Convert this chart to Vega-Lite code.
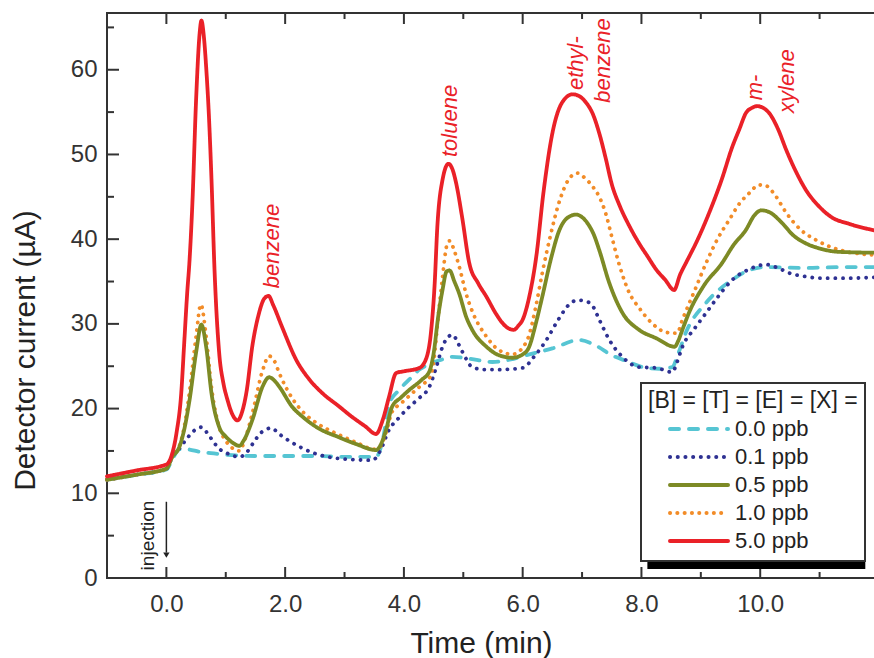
{
  "$schema": "https://vega.github.io/schema/vega-lite/v6.json",
  "width": 769,
  "height": 565,
  "autosize": "none",
  "padding": {"left": 107, "top": 13, "right": 0, "bottom": 80},
  "config": {
    "font": "Liberation Sans",
    "view": {"stroke": "#333", "strokeWidth": 2},
    "axis": {"grid": false, "ticks": false, "domain": false, "labelColor": "#333", "titleColor": "#222", "titleFontWeight": "normal", "labelFontSize": 24, "titleFontSize": 30},
    "legend": {"strokeWidth": 2}
  },
  "datasets": {
    "xMajor": [{"v": 0}, {"v": 2}, {"v": 4}, {"v": 6}, {"v": 8}, {"v": 10}],
    "xMinor": [{"v": -1}, {"v": 1}, {"v": 3}, {"v": 5}, {"v": 7}, {"v": 9}, {"v": 11}],
    "yMajor": [{"v": 10}, {"v": 20}, {"v": 30}, {"v": 40}, {"v": 50}, {"v": 60}],
    "yMinor": [{"v": 5}, {"v": 15}, {"v": 25}, {"v": 35}, {"v": 45}, {"v": 55}, {"v": 65}],
    "curves": [
      {"s": "0.0 ppb", "t": -1, "i": 11.6}, {"s": "0.0 ppb", "t": -0.5, "i": 12.2}, {"s": "0.0 ppb", "t": 0, "i": 12.8}, {"s": "0.0 ppb", "t": 0.1, "i": 14.0},
      {"s": "0.0 ppb", "t": 0.22, "i": 15.2}, {"s": "0.0 ppb", "t": 0.34, "i": 15.2}, {"s": "0.0 ppb", "t": 0.56, "i": 14.9}, {"s": "0.0 ppb", "t": 0.8, "i": 14.7},
      {"s": "0.0 ppb", "t": 1.11, "i": 14.5}, {"s": "0.0 ppb", "t": 1.5, "i": 14.4}, {"s": "0.0 ppb", "t": 2.0, "i": 14.4}, {"s": "0.0 ppb", "t": 2.5, "i": 14.4},
      {"s": "0.0 ppb", "t": 3.0, "i": 14.3}, {"s": "0.0 ppb", "t": 3.53, "i": 14.3}, {"s": "0.0 ppb", "t": 3.65, "i": 16.5}, {"s": "0.0 ppb", "t": 3.75, "i": 20.5},
      {"s": "0.0 ppb", "t": 3.92, "i": 22.2}, {"s": "0.0 ppb", "t": 4.1, "i": 23.5}, {"s": "0.0 ppb", "t": 4.26, "i": 24.6}, {"s": "0.0 ppb", "t": 4.45, "i": 25.3},
      {"s": "0.0 ppb", "t": 4.6, "i": 25.7}, {"s": "0.0 ppb", "t": 4.82, "i": 26.1}, {"s": "0.0 ppb", "t": 5.1, "i": 25.9}, {"s": "0.0 ppb", "t": 5.49, "i": 25.5},
      {"s": "0.0 ppb", "t": 5.8, "i": 25.8}, {"s": "0.0 ppb", "t": 6.06, "i": 26.3}, {"s": "0.0 ppb", "t": 6.5, "i": 27.1}, {"s": "0.0 ppb", "t": 6.95, "i": 28.1},
      {"s": "0.0 ppb", "t": 7.24, "i": 27.4}, {"s": "0.0 ppb", "t": 7.5, "i": 26.3}, {"s": "0.0 ppb", "t": 7.75, "i": 25.6}, {"s": "0.0 ppb", "t": 8.08, "i": 24.8},
      {"s": "0.0 ppb", "t": 8.3, "i": 24.7}, {"s": "0.0 ppb", "t": 8.52, "i": 24.9}, {"s": "0.0 ppb", "t": 8.62, "i": 26.5}, {"s": "0.0 ppb", "t": 8.75, "i": 29.0},
      {"s": "0.0 ppb", "t": 9.09, "i": 32.5}, {"s": "0.0 ppb", "t": 9.53, "i": 35.2}, {"s": "0.0 ppb", "t": 9.8, "i": 36.3}, {"s": "0.0 ppb", "t": 10.1, "i": 36.7},
      {"s": "0.0 ppb", "t": 10.77, "i": 36.6}, {"s": "0.0 ppb", "t": 11.3, "i": 36.7}, {"s": "0.0 ppb", "t": 11.95, "i": 36.7},

      {"s": "0.1 ppb", "t": -1, "i": 11.6}, {"s": "0.1 ppb", "t": -0.5, "i": 12.2}, {"s": "0.1 ppb", "t": 0, "i": 12.9}, {"s": "0.1 ppb", "t": 0.1, "i": 14.3},
      {"s": "0.1 ppb", "t": 0.22, "i": 15.3}, {"s": "0.1 ppb", "t": 0.35, "i": 16.5}, {"s": "0.1 ppb", "t": 0.45, "i": 17.3}, {"s": "0.1 ppb", "t": 0.59, "i": 17.8},
      {"s": "0.1 ppb", "t": 0.7, "i": 17.0}, {"s": "0.1 ppb", "t": 0.8, "i": 16.0}, {"s": "0.1 ppb", "t": 0.9, "i": 15.2}, {"s": "0.1 ppb", "t": 1.0, "i": 14.8},
      {"s": "0.1 ppb", "t": 1.23, "i": 14.3}, {"s": "0.1 ppb", "t": 1.35, "i": 14.8}, {"s": "0.1 ppb", "t": 1.45, "i": 15.8}, {"s": "0.1 ppb", "t": 1.6, "i": 17.2},
      {"s": "0.1 ppb", "t": 1.77, "i": 17.7}, {"s": "0.1 ppb", "t": 1.9, "i": 17.0}, {"s": "0.1 ppb", "t": 2.0, "i": 16.5}, {"s": "0.1 ppb", "t": 2.24, "i": 15.5},
      {"s": "0.1 ppb", "t": 2.5, "i": 14.7}, {"s": "0.1 ppb", "t": 2.8, "i": 14.2}, {"s": "0.1 ppb", "t": 3.1, "i": 14.0}, {"s": "0.1 ppb", "t": 3.47, "i": 13.9},
      {"s": "0.1 ppb", "t": 3.6, "i": 15.0}, {"s": "0.1 ppb", "t": 3.75, "i": 17.5}, {"s": "0.1 ppb", "t": 3.9, "i": 18.8}, {"s": "0.1 ppb", "t": 4.09, "i": 20.2},
      {"s": "0.1 ppb", "t": 4.25, "i": 21.2}, {"s": "0.1 ppb", "t": 4.43, "i": 22.6}, {"s": "0.1 ppb", "t": 4.55, "i": 25.0}, {"s": "0.1 ppb", "t": 4.65, "i": 27.3},
      {"s": "0.1 ppb", "t": 4.75, "i": 28.5}, {"s": "0.1 ppb", "t": 4.82, "i": 28.7}, {"s": "0.1 ppb", "t": 4.92, "i": 27.6}, {"s": "0.1 ppb", "t": 5.0, "i": 26.5},
      {"s": "0.1 ppb", "t": 5.15, "i": 24.9}, {"s": "0.1 ppb", "t": 5.35, "i": 24.6}, {"s": "0.1 ppb", "t": 5.6, "i": 24.6}, {"s": "0.1 ppb", "t": 6.0, "i": 24.8},
      {"s": "0.1 ppb", "t": 6.2, "i": 26.2}, {"s": "0.1 ppb", "t": 6.4, "i": 28.1}, {"s": "0.1 ppb", "t": 6.6, "i": 30.5}, {"s": "0.1 ppb", "t": 6.8, "i": 32.4},
      {"s": "0.1 ppb", "t": 6.92, "i": 32.8}, {"s": "0.1 ppb", "t": 7.05, "i": 32.7}, {"s": "0.1 ppb", "t": 7.17, "i": 32.2}, {"s": "0.1 ppb", "t": 7.29, "i": 30.5},
      {"s": "0.1 ppb", "t": 7.46, "i": 28.1}, {"s": "0.1 ppb", "t": 7.68, "i": 26.1}, {"s": "0.1 ppb", "t": 7.96, "i": 24.9}, {"s": "0.1 ppb", "t": 8.25, "i": 24.8},
      {"s": "0.1 ppb", "t": 8.52, "i": 24.3}, {"s": "0.1 ppb", "t": 8.6, "i": 25.5}, {"s": "0.1 ppb", "t": 8.69, "i": 27.3}, {"s": "0.1 ppb", "t": 8.9, "i": 29.5},
      {"s": "0.1 ppb", "t": 9.09, "i": 31.3}, {"s": "0.1 ppb", "t": 9.3, "i": 33.3}, {"s": "0.1 ppb", "t": 9.53, "i": 35.2}, {"s": "0.1 ppb", "t": 9.8, "i": 36.4},
      {"s": "0.1 ppb", "t": 10.1, "i": 37.0}, {"s": "0.1 ppb", "t": 10.3, "i": 36.6}, {"s": "0.1 ppb", "t": 10.49, "i": 36.0}, {"s": "0.1 ppb", "t": 10.75, "i": 35.6},
      {"s": "0.1 ppb", "t": 11.04, "i": 35.4}, {"s": "0.1 ppb", "t": 11.5, "i": 35.4}, {"s": "0.1 ppb", "t": 11.95, "i": 35.5},

      {"s": "1.0 ppb", "t": -1, "i": 11.6}, {"s": "1.0 ppb", "t": -0.5, "i": 12.2}, {"s": "1.0 ppb", "t": 0, "i": 12.9}, {"s": "1.0 ppb", "t": 0.1, "i": 14.3},
      {"s": "1.0 ppb", "t": 0.22, "i": 15.6}, {"s": "1.0 ppb", "t": 0.3, "i": 17.8}, {"s": "1.0 ppb", "t": 0.39, "i": 22.0}, {"s": "1.0 ppb", "t": 0.5, "i": 28.5},
      {"s": "1.0 ppb", "t": 0.58, "i": 32.3}, {"s": "1.0 ppb", "t": 0.67, "i": 28.5}, {"s": "1.0 ppb", "t": 0.76, "i": 22.5}, {"s": "1.0 ppb", "t": 0.89, "i": 17.8},
      {"s": "1.0 ppb", "t": 1.0, "i": 16.2}, {"s": "1.0 ppb", "t": 1.1, "i": 15.4}, {"s": "1.0 ppb", "t": 1.23, "i": 15.0}, {"s": "1.0 ppb", "t": 1.32, "i": 16.3},
      {"s": "1.0 ppb", "t": 1.45, "i": 19.5}, {"s": "1.0 ppb", "t": 1.62, "i": 24.5}, {"s": "1.0 ppb", "t": 1.73, "i": 26.2}, {"s": "1.0 ppb", "t": 1.82, "i": 25.6},
      {"s": "1.0 ppb", "t": 1.9, "i": 24.2}, {"s": "1.0 ppb", "t": 2.12, "i": 21.2}, {"s": "1.0 ppb", "t": 2.3, "i": 19.6}, {"s": "1.0 ppb", "t": 2.53, "i": 18.3},
      {"s": "1.0 ppb", "t": 2.91, "i": 16.9}, {"s": "1.0 ppb", "t": 3.2, "i": 16.0}, {"s": "1.0 ppb", "t": 3.5, "i": 15.2}, {"s": "1.0 ppb", "t": 3.6, "i": 15.5},
      {"s": "1.0 ppb", "t": 3.7, "i": 17.2}, {"s": "1.0 ppb", "t": 3.8, "i": 19.6}, {"s": "1.0 ppb", "t": 3.95, "i": 20.6}, {"s": "1.0 ppb", "t": 4.09, "i": 21.5},
      {"s": "1.0 ppb", "t": 4.3, "i": 22.8}, {"s": "1.0 ppb", "t": 4.43, "i": 23.6}, {"s": "1.0 ppb", "t": 4.5, "i": 25.5}, {"s": "1.0 ppb", "t": 4.58, "i": 31.0},
      {"s": "1.0 ppb", "t": 4.65, "i": 35.5}, {"s": "1.0 ppb", "t": 4.72, "i": 39.2}, {"s": "1.0 ppb", "t": 4.77, "i": 39.8}, {"s": "1.0 ppb", "t": 4.85, "i": 38.6},
      {"s": "1.0 ppb", "t": 4.93, "i": 36.8}, {"s": "1.0 ppb", "t": 5.05, "i": 33.5}, {"s": "1.0 ppb", "t": 5.15, "i": 31.5}, {"s": "1.0 ppb", "t": 5.39, "i": 28.5},
      {"s": "1.0 ppb", "t": 5.6, "i": 26.9}, {"s": "1.0 ppb", "t": 5.83, "i": 26.4}, {"s": "1.0 ppb", "t": 6.0, "i": 27.2}, {"s": "1.0 ppb", "t": 6.1, "i": 28.5},
      {"s": "1.0 ppb", "t": 6.22, "i": 32.0}, {"s": "1.0 ppb", "t": 6.33, "i": 36.0}, {"s": "1.0 ppb", "t": 6.47, "i": 40.5}, {"s": "1.0 ppb", "t": 6.62, "i": 44.5},
      {"s": "1.0 ppb", "t": 6.77, "i": 47.0}, {"s": "1.0 ppb", "t": 6.92, "i": 47.8}, {"s": "1.0 ppb", "t": 7.05, "i": 47.2}, {"s": "1.0 ppb", "t": 7.18, "i": 46.2},
      {"s": "1.0 ppb", "t": 7.29, "i": 45.0}, {"s": "1.0 ppb", "t": 7.4, "i": 43.0}, {"s": "1.0 ppb", "t": 7.5, "i": 40.3}, {"s": "1.0 ppb", "t": 7.63, "i": 36.9},
      {"s": "1.0 ppb", "t": 7.8, "i": 33.6}, {"s": "1.0 ppb", "t": 7.96, "i": 31.9}, {"s": "1.0 ppb", "t": 8.16, "i": 30.2}, {"s": "1.0 ppb", "t": 8.42, "i": 29.0},
      {"s": "1.0 ppb", "t": 8.6, "i": 28.9}, {"s": "1.0 ppb", "t": 8.69, "i": 30.5}, {"s": "1.0 ppb", "t": 8.9, "i": 34.0}, {"s": "1.0 ppb", "t": 9.09, "i": 37.2},
      {"s": "1.0 ppb", "t": 9.28, "i": 40.0}, {"s": "1.0 ppb", "t": 9.48, "i": 42.3}, {"s": "1.0 ppb", "t": 9.65, "i": 44.2}, {"s": "1.0 ppb", "t": 9.81, "i": 45.4},
      {"s": "1.0 ppb", "t": 9.98, "i": 46.4}, {"s": "1.0 ppb", "t": 10.1, "i": 46.3}, {"s": "1.0 ppb", "t": 10.25, "i": 45.2}, {"s": "1.0 ppb", "t": 10.44, "i": 43.1},
      {"s": "1.0 ppb", "t": 10.7, "i": 41.0}, {"s": "1.0 ppb", "t": 10.94, "i": 39.9}, {"s": "1.0 ppb", "t": 11.3, "i": 38.8}, {"s": "1.0 ppb", "t": 11.95, "i": 38.1},

      {"s": "0.5 ppb", "t": -1, "i": 11.6}, {"s": "0.5 ppb", "t": -0.5, "i": 12.2}, {"s": "0.5 ppb", "t": 0, "i": 12.9}, {"s": "0.5 ppb", "t": 0.1, "i": 14.3},
      {"s": "0.5 ppb", "t": 0.22, "i": 15.5}, {"s": "0.5 ppb", "t": 0.3, "i": 17.5}, {"s": "0.5 ppb", "t": 0.39, "i": 21.0}, {"s": "0.5 ppb", "t": 0.5, "i": 26.6},
      {"s": "0.5 ppb", "t": 0.59, "i": 29.9}, {"s": "0.5 ppb", "t": 0.67, "i": 27.3}, {"s": "0.5 ppb", "t": 0.76, "i": 21.8}, {"s": "0.5 ppb", "t": 0.89, "i": 17.8},
      {"s": "0.5 ppb", "t": 1.0, "i": 16.7}, {"s": "0.5 ppb", "t": 1.11, "i": 16.0}, {"s": "0.5 ppb", "t": 1.23, "i": 15.6}, {"s": "0.5 ppb", "t": 1.3, "i": 16.2},
      {"s": "0.5 ppb", "t": 1.45, "i": 18.7}, {"s": "0.5 ppb", "t": 1.62, "i": 22.6}, {"s": "0.5 ppb", "t": 1.73, "i": 23.7}, {"s": "0.5 ppb", "t": 1.82, "i": 23.3},
      {"s": "0.5 ppb", "t": 1.9, "i": 22.6}, {"s": "0.5 ppb", "t": 2.12, "i": 20.2}, {"s": "0.5 ppb", "t": 2.3, "i": 19.0}, {"s": "0.5 ppb", "t": 2.53, "i": 17.8},
      {"s": "0.5 ppb", "t": 2.91, "i": 16.6}, {"s": "0.5 ppb", "t": 3.2, "i": 15.8}, {"s": "0.5 ppb", "t": 3.53, "i": 15.1}, {"s": "0.5 ppb", "t": 3.6, "i": 15.6},
      {"s": "0.5 ppb", "t": 3.7, "i": 17.5}, {"s": "0.5 ppb", "t": 3.8, "i": 20.2}, {"s": "0.5 ppb", "t": 3.95, "i": 21.3}, {"s": "0.5 ppb", "t": 4.09, "i": 22.2},
      {"s": "0.5 ppb", "t": 4.3, "i": 23.4}, {"s": "0.5 ppb", "t": 4.43, "i": 24.4}, {"s": "0.5 ppb", "t": 4.5, "i": 26.5}, {"s": "0.5 ppb", "t": 4.58, "i": 31.0},
      {"s": "0.5 ppb", "t": 4.65, "i": 34.0}, {"s": "0.5 ppb", "t": 4.72, "i": 36.2}, {"s": "0.5 ppb", "t": 4.77, "i": 36.3}, {"s": "0.5 ppb", "t": 4.85, "i": 35.0},
      {"s": "0.5 ppb", "t": 4.93, "i": 33.6}, {"s": "0.5 ppb", "t": 5.05, "i": 30.8}, {"s": "0.5 ppb", "t": 5.15, "i": 29.3}, {"s": "0.5 ppb", "t": 5.39, "i": 27.3},
      {"s": "0.5 ppb", "t": 5.6, "i": 26.3}, {"s": "0.5 ppb", "t": 5.83, "i": 26.0}, {"s": "0.5 ppb", "t": 6.0, "i": 26.4}, {"s": "0.5 ppb", "t": 6.11, "i": 27.3},
      {"s": "0.5 ppb", "t": 6.22, "i": 30.0}, {"s": "0.5 ppb", "t": 6.33, "i": 33.2}, {"s": "0.5 ppb", "t": 6.47, "i": 37.5}, {"s": "0.5 ppb", "t": 6.62, "i": 41.1},
      {"s": "0.5 ppb", "t": 6.77, "i": 42.6}, {"s": "0.5 ppb", "t": 6.9, "i": 42.9}, {"s": "0.5 ppb", "t": 7.0, "i": 42.6}, {"s": "0.5 ppb", "t": 7.1, "i": 41.8},
      {"s": "0.5 ppb", "t": 7.2, "i": 40.5}, {"s": "0.5 ppb", "t": 7.29, "i": 38.7}, {"s": "0.5 ppb", "t": 7.46, "i": 34.8}, {"s": "0.5 ppb", "t": 7.68, "i": 31.3},
      {"s": "0.5 ppb", "t": 7.96, "i": 29.3}, {"s": "0.5 ppb", "t": 8.25, "i": 28.3}, {"s": "0.5 ppb", "t": 8.56, "i": 27.3}, {"s": "0.5 ppb", "t": 8.62, "i": 28.0},
      {"s": "0.5 ppb", "t": 8.7, "i": 29.5}, {"s": "0.5 ppb", "t": 8.8, "i": 31.3}, {"s": "0.5 ppb", "t": 9.05, "i": 34.5}, {"s": "0.5 ppb", "t": 9.36, "i": 37.2},
      {"s": "0.5 ppb", "t": 9.55, "i": 39.3}, {"s": "0.5 ppb", "t": 9.76, "i": 41.1}, {"s": "0.5 ppb", "t": 9.9, "i": 42.8}, {"s": "0.5 ppb", "t": 10.02, "i": 43.4},
      {"s": "0.5 ppb", "t": 10.15, "i": 43.2}, {"s": "0.5 ppb", "t": 10.37, "i": 41.9}, {"s": "0.5 ppb", "t": 10.55, "i": 40.5}, {"s": "0.5 ppb", "t": 10.77, "i": 39.5},
      {"s": "0.5 ppb", "t": 11.0, "i": 38.9}, {"s": "0.5 ppb", "t": 11.33, "i": 38.5}, {"s": "0.5 ppb", "t": 11.95, "i": 38.4},

      {"s": "5.0 ppb", "t": -1, "i": 12.0}, {"s": "5.0 ppb", "t": -0.5, "i": 12.7}, {"s": "5.0 ppb", "t": 0, "i": 13.4}, {"s": "5.0 ppb", "t": 0.08, "i": 14.3},
      {"s": "5.0 ppb", "t": 0.17, "i": 17.1}, {"s": "5.0 ppb", "t": 0.25, "i": 21.8}, {"s": "5.0 ppb", "t": 0.3, "i": 27.7}, {"s": "5.0 ppb", "t": 0.35, "i": 33.6},
      {"s": "5.0 ppb", "t": 0.39, "i": 37.5}, {"s": "5.0 ppb", "t": 0.44, "i": 44.6}, {"s": "5.0 ppb", "t": 0.5, "i": 56.4}, {"s": "5.0 ppb", "t": 0.56, "i": 64.3},
      {"s": "5.0 ppb", "t": 0.59, "i": 65.8}, {"s": "5.0 ppb", "t": 0.63, "i": 64.0}, {"s": "5.0 ppb", "t": 0.67, "i": 60.3}, {"s": "5.0 ppb", "t": 0.72, "i": 54.0},
      {"s": "5.0 ppb", "t": 0.76, "i": 47.0}, {"s": "5.0 ppb", "t": 0.81, "i": 36.5}, {"s": "5.0 ppb", "t": 0.89, "i": 26.5}, {"s": "5.0 ppb", "t": 0.96, "i": 23.0},
      {"s": "5.0 ppb", "t": 1.03, "i": 21.0}, {"s": "5.0 ppb", "t": 1.1, "i": 19.5}, {"s": "5.0 ppb", "t": 1.2, "i": 18.6}, {"s": "5.0 ppb", "t": 1.27, "i": 19.5},
      {"s": "5.0 ppb", "t": 1.35, "i": 22.0}, {"s": "5.0 ppb", "t": 1.45, "i": 27.5}, {"s": "5.0 ppb", "t": 1.55, "i": 31.0}, {"s": "5.0 ppb", "t": 1.65, "i": 33.0},
      {"s": "5.0 ppb", "t": 1.72, "i": 33.3}, {"s": "5.0 ppb", "t": 1.8, "i": 32.2}, {"s": "5.0 ppb", "t": 1.95, "i": 29.6}, {"s": "5.0 ppb", "t": 2.19, "i": 25.7},
      {"s": "5.0 ppb", "t": 2.4, "i": 23.5}, {"s": "5.0 ppb", "t": 2.63, "i": 21.8}, {"s": "5.0 ppb", "t": 2.9, "i": 20.3}, {"s": "5.0 ppb", "t": 3.13, "i": 19.0},
      {"s": "5.0 ppb", "t": 3.35, "i": 17.9}, {"s": "5.0 ppb", "t": 3.53, "i": 17.0}, {"s": "5.0 ppb", "t": 3.65, "i": 18.8}, {"s": "5.0 ppb", "t": 3.75, "i": 21.4},
      {"s": "5.0 ppb", "t": 3.87, "i": 24.2}, {"s": "5.0 ppb", "t": 4.0, "i": 24.4}, {"s": "5.0 ppb", "t": 4.26, "i": 24.8}, {"s": "5.0 ppb", "t": 4.38, "i": 26.0},
      {"s": "5.0 ppb", "t": 4.46, "i": 29.3}, {"s": "5.0 ppb", "t": 4.52, "i": 35.0}, {"s": "5.0 ppb", "t": 4.56, "i": 41.1}, {"s": "5.0 ppb", "t": 4.65, "i": 47.0},
      {"s": "5.0 ppb", "t": 4.75, "i": 48.9}, {"s": "5.0 ppb", "t": 4.82, "i": 48.2}, {"s": "5.0 ppb", "t": 4.88, "i": 46.6}, {"s": "5.0 ppb", "t": 4.98, "i": 42.6},
      {"s": "5.0 ppb", "t": 5.1, "i": 37.2}, {"s": "5.0 ppb", "t": 5.25, "i": 34.8}, {"s": "5.0 ppb", "t": 5.39, "i": 33.2}, {"s": "5.0 ppb", "t": 5.55, "i": 31.2},
      {"s": "5.0 ppb", "t": 5.66, "i": 30.1}, {"s": "5.0 ppb", "t": 5.78, "i": 29.4}, {"s": "5.0 ppb", "t": 5.85, "i": 29.3}, {"s": "5.0 ppb", "t": 5.93, "i": 29.8},
      {"s": "5.0 ppb", "t": 6.0, "i": 30.5}, {"s": "5.0 ppb", "t": 6.12, "i": 33.5}, {"s": "5.0 ppb", "t": 6.23, "i": 38.0}, {"s": "5.0 ppb", "t": 6.35, "i": 45.5},
      {"s": "5.0 ppb", "t": 6.5, "i": 52.5}, {"s": "5.0 ppb", "t": 6.67, "i": 56.2}, {"s": "5.0 ppb", "t": 6.84, "i": 57.1}, {"s": "5.0 ppb", "t": 6.95, "i": 56.9},
      {"s": "5.0 ppb", "t": 7.07, "i": 56.1}, {"s": "5.0 ppb", "t": 7.18, "i": 54.8}, {"s": "5.0 ppb", "t": 7.29, "i": 52.5}, {"s": "5.0 ppb", "t": 7.4, "i": 49.5},
      {"s": "5.0 ppb", "t": 7.5, "i": 46.5}, {"s": "5.0 ppb", "t": 7.63, "i": 44.0}, {"s": "5.0 ppb", "t": 7.8, "i": 41.5}, {"s": "5.0 ppb", "t": 7.96, "i": 39.5},
      {"s": "5.0 ppb", "t": 8.1, "i": 38.0}, {"s": "5.0 ppb", "t": 8.25, "i": 36.4}, {"s": "5.0 ppb", "t": 8.4, "i": 35.2}, {"s": "5.0 ppb", "t": 8.55, "i": 34.0},
      {"s": "5.0 ppb", "t": 8.65, "i": 35.8}, {"s": "5.0 ppb", "t": 8.75, "i": 37.2}, {"s": "5.0 ppb", "t": 8.95, "i": 40.0}, {"s": "5.0 ppb", "t": 9.14, "i": 43.1},
      {"s": "5.0 ppb", "t": 9.35, "i": 47.0}, {"s": "5.0 ppb", "t": 9.53, "i": 50.9}, {"s": "5.0 ppb", "t": 9.65, "i": 53.0}, {"s": "5.0 ppb", "t": 9.76, "i": 54.9},
      {"s": "5.0 ppb", "t": 9.86, "i": 55.5}, {"s": "5.0 ppb", "t": 9.95, "i": 55.7}, {"s": "5.0 ppb", "t": 10.05, "i": 55.5}, {"s": "5.0 ppb", "t": 10.15, "i": 54.9},
      {"s": "5.0 ppb", "t": 10.3, "i": 53.0}, {"s": "5.0 ppb", "t": 10.44, "i": 50.5}, {"s": "5.0 ppb", "t": 10.6, "i": 48.0}, {"s": "5.0 ppb", "t": 10.77, "i": 45.8},
      {"s": "5.0 ppb", "t": 11.0, "i": 43.8}, {"s": "5.0 ppb", "t": 11.2, "i": 42.6}, {"s": "5.0 ppb", "t": 11.5, "i": 41.8}, {"s": "5.0 ppb", "t": 11.95, "i": 41.0}
    ],
    "peaks": [
      {"t": 1.78, "v": 34.2, "name": "benzene"},
      {"t": 4.78, "v": 49.7, "name": "toluene"},
      {"t": 6.9, "v": 57.6, "name": "ethyl-"},
      {"t": 7.35, "v": 56.1, "name": "benzene"},
      {"t": 9.91, "v": 56.4, "name": "m-"},
      {"t": 10.45, "v": 54.9, "name": "xylene"}
    ]
  },
  "layer": [
    {
      "data": {"name": "curves"},
      "mark": {"type": "line", "interpolate": "monotone", "strokeWidth": 3.8, "strokeCap": "round", "strokeJoin": "round"},
      "encoding": {
        "x": {
          "field": "t", "type": "quantitative",
          "scale": {"domain": [-1, 11.95], "nice": false, "zero": false},
          "axis": {
            "orient": "bottom", "values": [0, 2, 4, 6, 8, 10],
            "labelFlush": false, "labelOverlap": false, "labelPadding": 14,
            "title": "Time (min)", "titleX": 374, "titleY": 65, "titleAlign": "center", "titleBaseline": "middle"
          }
        },
        "y": {
          "field": "i", "type": "quantitative",
          "scale": {"domain": [0, 66.7], "nice": false},
          "axis": {
            "orient": "left", "values": [0, 10, 20, 30, 40, 50, 60],
            "labelOverlap": false, "labelPadding": 10,
            "title": "Detector current (µA)", "titleAngle": -90, "titleX": -82, "titleY": 337, "titleAlign": "center", "titleBaseline": "middle"
          }
        },
        "color": {
          "field": "s", "type": "nominal",
          "scale": {"domain": ["0.0 ppb", "0.1 ppb", "0.5 ppb", "1.0 ppb", "5.0 ppb"], "range": ["#56c5d3", "#2e3192", "#7d8a25", "#f28c28", "#ea2128"]},
          "legend": {
            "title": "[B] = [T] = [E] = [X] =", "orient": "none", "legendX": 534, "legendY": 370,
            "titleFontSize": 23, "titleFontWeight": "normal", "titleColor": "#222", "titlePadding": 3, "titleLimit": 400,
            "labelFontSize": 22, "labelColor": "#222", "labelOffset": 5,
            "symbolType": "stroke", "symbolSize": 3364, "symbolStrokeWidth": 4, "symbolOffset": 20,
            "clipHeight": 26, "rowPadding": 2, "padding": 7,
            "fillColor": "white", "strokeColor": "#333", "cornerRadius": 0,
            "encode": {"symbols": {"update": {"strokeCap": {"value": "round"}}}}
          }
        },
        "strokeDash": {
          "field": "s", "type": "nominal",
          "scale": {"domain": ["0.0 ppb", "0.1 ppb", "0.5 ppb", "1.0 ppb", "5.0 ppb"], "range": [[9, 10], [0.1, 7.6], [1, 0], [0.1, 7.2], [1, 0]]},
          "legend": {
            "title": "[B] = [T] = [E] = [X] =", "orient": "none", "legendX": 534, "legendY": 370,
            "titleFontSize": 23, "titleFontWeight": "normal", "titleColor": "#222", "titlePadding": 3, "titleLimit": 400,
            "labelFontSize": 22, "labelColor": "#222", "labelOffset": 5,
            "symbolType": "stroke", "symbolSize": 3364, "symbolStrokeWidth": 4, "symbolOffset": 20,
            "clipHeight": 26, "rowPadding": 2, "padding": 7,
            "fillColor": "white", "strokeColor": "#333", "cornerRadius": 0,
            "encode": {"symbols": {"update": {"strokeCap": {"value": "round"}}}}
          }
        }
      }
    },
    {
      "data": {"name": "xMajor"},
      "mark": {"type": "tick", "orient": "vertical", "size": 22, "thickness": 2, "color": "#333", "opacity": 1, "clip": true},
      "encoding": {
        "x": {"field": "v", "type": "quantitative"},
        "y": {"datum": 0, "type": "quantitative"}
      }
    },
    {
      "data": {"name": "xMajor"},
      "mark": {"type": "tick", "orient": "vertical", "size": 22, "thickness": 2, "color": "#333", "opacity": 1, "clip": true},
      "encoding": {
        "x": {"field": "v", "type": "quantitative"},
        "y": {"datum": 66.7, "type": "quantitative"}
      }
    },
    {
      "data": {"name": "xMinor"},
      "mark": {"type": "tick", "orient": "vertical", "size": 12, "thickness": 2, "color": "#333", "opacity": 1, "clip": true},
      "encoding": {
        "x": {"field": "v", "type": "quantitative"},
        "y": {"datum": 0, "type": "quantitative"}
      }
    },
    {
      "data": {"name": "xMinor"},
      "mark": {"type": "tick", "orient": "vertical", "size": 12, "thickness": 2, "color": "#333", "opacity": 1, "clip": true},
      "encoding": {
        "x": {"field": "v", "type": "quantitative"},
        "y": {"datum": 66.7, "type": "quantitative"}
      }
    },
    {
      "data": {"name": "yMajor"},
      "mark": {"type": "tick", "orient": "horizontal", "size": 24, "thickness": 2, "color": "#333", "opacity": 1, "clip": true},
      "encoding": {
        "x": {"datum": -1, "type": "quantitative"},
        "y": {"field": "v", "type": "quantitative"}
      }
    },
    {
      "data": {"name": "yMinor"},
      "mark": {"type": "tick", "orient": "horizontal", "size": 14, "thickness": 2, "color": "#333", "opacity": 1, "clip": true},
      "encoding": {
        "x": {"datum": -1, "type": "quantitative"},
        "y": {"field": "v", "type": "quantitative"}
      }
    },
    {
      "data": {"values": [{}]},
      "mark": {"type": "rect", "fill": "black", "opacity": 1},
      "encoding": {
        "x": {"datum": 8.1, "type": "quantitative"},
        "x2": {"datum": 11.77},
        "y": {"datum": 1.06, "type": "quantitative"},
        "y2": {"datum": 20}
      }
    },
    {
      "data": {"name": "peaks"},
      "mark": {"type": "text", "angle": 270, "align": "left", "baseline": "middle", "fontStyle": "italic", "fontSize": 22, "color": "#ea2128"},
      "encoding": {
        "x": {"field": "t", "type": "quantitative"},
        "y": {"field": "v", "type": "quantitative"},
        "text": {"field": "name"}
      }
    },
    {
      "data": {"values": [{}]},
      "mark": {"type": "text", "angle": 270, "align": "left", "baseline": "middle", "fontSize": 19, "color": "#222"},
      "encoding": {
        "x": {"datum": -0.31, "type": "quantitative"},
        "y": {"datum": 0.9, "type": "quantitative"},
        "text": {"value": "injection"}
      }
    },
    {
      "data": {"values": [{}]},
      "mark": {"type": "rule", "color": "#222", "strokeWidth": 1.5},
      "encoding": {
        "x": {"datum": 0, "type": "quantitative"},
        "y": {"datum": 9.0, "type": "quantitative"},
        "y2": {"datum": 3.0}
      }
    },
    {
      "data": {"values": [{}]},
      "mark": {"type": "point", "shape": "triangle-down", "filled": true, "color": "#222", "size": 40, "opacity": 1},
      "encoding": {
        "x": {"datum": 0, "type": "quantitative"},
        "y": {"datum": 2.7, "type": "quantitative"}
      }
    }
  ]
}
